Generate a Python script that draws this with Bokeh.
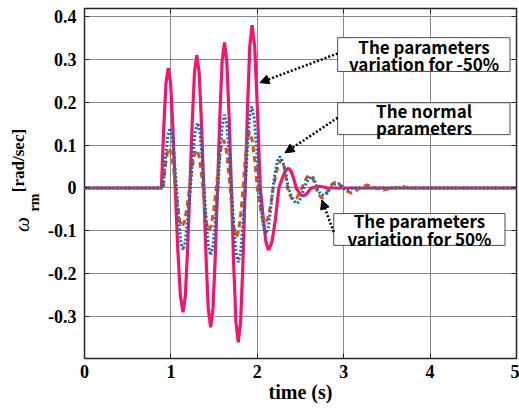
import math

from bokeh.core.properties import value
from bokeh.embed import file_html
from bokeh.layouts import row
from bokeh.models import Arrow, FixedTicker, LinearAxis, NormalHead, Range1d
from bokeh.plotting import figure
from bokeh.resources import INLINE

# Rotor speed deviation omega_rm [rad/sec] vs time [s]
# Parameter variation -50 %
t_m50 = [0, 0.89, 0.917, 0.943, 0.97, 0.997, 1.023, 1.05, 1.08, 1.11, 1.14, 1.167, 1.193,
         1.22, 1.247, 1.273, 1.30, 1.327, 1.353, 1.38, 1.407, 1.433, 1.46, 1.487, 1.513,
         1.54, 1.567, 1.593, 1.62, 1.647, 1.673, 1.70, 1.727, 1.753, 1.78, 1.807, 1.833,
         1.86, 1.887, 1.913, 1.94, 1.97, 2.0, 2.035, 2.07, 2.10, 2.13, 2.17, 2.21, 2.25,
         2.29, 2.325, 2.36, 2.39, 2.42, 2.45, 2.48, 2.505, 2.53, 2.56, 2.59, 2.62, 2.72,
         2.82, 5.0]
w_m50 = [0, 0, 0.14, 0.244, 0.28, 0.244, 0.14, 0, -0.145, -0.252, -0.29, -0.252, -0.145,
         0, 0.155, 0.27, 0.31, 0.27, 0.155, 0, -0.163, -0.283, -0.325, -0.283, -0.163,
         0, 0.17, 0.296, 0.34, 0.296, 0.17, 0, -0.18, -0.313, -0.36, -0.313, -0.18,
         0, 0.19, 0.33, 0.38, 0.33, 0.19, 0, -0.073, -0.126, -0.145, -0.126, -0.073, 0,
         0.023, 0.04, 0.046, 0.04, 0.023, 0, -0.009, -0.016, -0.018, -0.016, -0.009, 0, 0.004,
         0, 0]

# Normal parameters
t_nom = [0, 0.91, 0.937, 0.963, 0.99, 1.015, 1.04, 1.065, 1.09, 1.115, 1.14, 1.167, 1.193,
         1.225, 1.253, 1.282, 1.31, 1.335, 1.36, 1.385, 1.41, 1.435, 1.46, 1.487, 1.513,
         1.545, 1.57, 1.595, 1.62, 1.647, 1.673, 1.70, 1.727, 1.753, 1.78, 1.807, 1.833,
         1.86, 1.885, 1.91, 1.935, 1.963, 1.992, 2.02, 2.047, 2.073, 2.10, 2.127, 2.153,
         2.18, 2.207, 2.233, 2.26, 2.293, 2.327, 2.36, 2.393, 2.427, 2.46, 2.487, 2.513,
         2.54, 2.57, 2.60, 2.63, 2.65, 2.67, 2.69, 2.725, 2.76, 2.805, 2.85, 2.895, 2.94,
         2.965, 2.99, 3.04, 3.10, 5.0]
w_nom = [0, 0, 0.07, 0.121, 0.14, 0.121, 0.07, 0, -0.073, -0.126, -0.145, -0.126, -0.073,
         0, 0.076, 0.132, 0.152, 0.132, 0.076, 0, -0.079, -0.136, -0.157, -0.136, -0.079,
         0, 0.086, 0.148, 0.171, 0.148, 0.086, 0, -0.087, -0.15, -0.173, -0.15, -0.087,
         0, 0.095, 0.165, 0.19, 0.165, 0.095, 0, -0.054, -0.093, -0.107, -0.093, -0.054,
         0, 0.037, 0.063, 0.073, 0.063, 0.037, 0, -0.018, -0.031, -0.036, -0.031, -0.018,
         0, 0.013, 0.023, 0.026, 0.023, 0.013, 0, -0.012, -0.016, -0.012, 0, 0.008, 0.01,
         0.008, 0, -0.005, 0, 0]

# Parameter variation +50 %
t_p50 = [0, 0.91, 0.933, 0.957, 0.98, 1.005, 1.03, 1.055, 1.08, 1.105, 1.13, 1.157, 1.187,
         1.215, 1.243, 1.272, 1.30, 1.323, 1.347, 1.37, 1.393, 1.417, 1.44, 1.468, 1.497,
         1.525, 1.553, 1.582, 1.61, 1.635, 1.66, 1.685, 1.71, 1.735, 1.76, 1.785, 1.81,
         1.835, 1.86, 1.885, 1.91, 1.94, 1.97, 2.0, 2.03, 2.06, 2.09, 2.122, 2.153, 2.185,
         2.217, 2.248, 2.28, 2.303, 2.327, 2.35, 2.373, 2.397, 2.42, 2.452, 2.483, 2.515,
         2.547, 2.578, 2.61, 2.633, 2.657, 2.68, 2.715, 2.75, 2.79, 2.83, 2.865, 2.90, 2.95,
         3.0, 3.045, 3.09, 3.135, 3.18, 3.27, 3.37, 3.46, 3.57, 3.69, 3.8, 5.0]
w_p50 = [0, 0, 0.047, 0.081, 0.093, 0.081, 0.047, 0, -0.045, -0.078, -0.09, -0.078, -0.045,
         0, 0.045, 0.077, 0.089, 0.077, 0.045, 0, -0.05, -0.087, -0.10, -0.087, -0.05,
         0, 0.056, 0.097, 0.112, 0.097, 0.056, 0, -0.057, -0.099, -0.114, -0.099, -0.057,
         0, 0.065, 0.113, 0.13, 0.113, 0.065, 0, -0.041, -0.071, -0.082, -0.071, -0.041, 0,
         0.033, 0.057, 0.066, 0.057, 0.033, 0, -0.014, -0.024, -0.028, -0.024, -0.014, 0,
         0.015, 0.026, 0.03, 0.026, 0.015, 0, -0.017, -0.024, -0.017, 0, 0.009, 0.013, 0.009,
         0, -0.008, -0.012, -0.008, 0, 0.007, 0, -0.005, 0, 0.003, 0, 0]

x_ticks = [0, 1, 2, 3, 4, 5]
x_tick_labels = ["0", "1", "2", "3", "4", "5"]
y_ticks = [-0.3, -0.2, -0.1, 0, 0.1, 0.2, 0.3, 0.4]
y_tick_labels = ["-0.3", "-0.2", "-0.1", "0", "0.1", "0.2", "0.3", "0.4"]

PINK = "#f4146a"
BLUE = "#0072bd"
ORANGE = "#d95319"
FRAME = "#262626"
SERIF = "Liberation Serif"
SANS = "Noto Sans CJK KR"

LABEL_W = 45   # strip holding the vertical y-axis title
H = 408
TOP, BOTTOM = 8, 50   # frame insets shared by both plots of the row

# ---- y-axis title strip: omega_rm [rad/sec], positioned in pixels from the bottom ----
ylab = figure(width=LABEL_W, height=H, output_backend="svg", toolbar_location=None,
              x_range=Range1d(0, LABEL_W), y_range=Range1d(BOTTOM, H - TOP),
              min_border_left=0, min_border_right=0, min_border_top=TOP,
              min_border_bottom=BOTTOM, outline_line_color=None,
              background_fill_color="white", border_fill_color="white")
ylab.axis.visible = False
ylab.grid.visible = False
title_parts = [
    # (x, y from bottom, text, style, size)
    (21, 184, "ω", "italic", "21px"),
    (34, 206, "rm", "bold", "14px"),
    (18, 248, "[rad/sec]", "bold", "17px"),
]
for x, y, txt, style, size in title_parts:
    ylab.text(x=[x], y=[y], text=[txt], angle=math.pi / 2, text_font=value(SERIF),
              text_font_style=style, text_font_size=size, text_align="center",
              text_baseline="middle", text_color="black")

# ---- main chart ----
p = figure(width=519 - LABEL_W, height=H, output_backend="svg", toolbar_location=None,
           x_range=Range1d(0, 5), y_range=Range1d(-0.398, 0.419),
           min_border_left=83 - LABEL_W, min_border_right=3, min_border_top=TOP,
           min_border_bottom=BOTTOM,
           background_fill_color="white", border_fill_color="white")
p.outline_line_color = FRAME
p.outline_line_width = 1.5

# Grid
p.xgrid.ticker = FixedTicker(ticks=[1, 2, 3, 4])
p.ygrid.ticker = FixedTicker(ticks=y_ticks)
for g in (p.xgrid, p.ygrid):
    g.grid_line_color = "#8a8a8a"
    g.grid_line_width = 1

# Axes
p.xaxis.ticker = FixedTicker(ticks=x_ticks)
p.xaxis.major_label_overrides = dict(zip(x_ticks, x_tick_labels))
p.yaxis.ticker = FixedTicker(ticks=y_ticks)
p.yaxis.major_label_overrides = dict(zip(y_ticks, y_tick_labels))
for ax in (p.xaxis, p.yaxis):
    ax.axis_line_color = None
    ax.major_tick_in = 5
    ax.major_tick_out = 0
    ax.minor_tick_line_color = None
    ax.major_tick_line_color = FRAME
    ax.major_label_text_font = SERIF
    ax.major_label_text_font_style = "bold"
    ax.major_label_text_font_size = "18px"
    ax.major_label_text_color = "black"
p.yaxis.major_label_standoff = 8
p.xaxis.major_label_standoff = 6
p.xaxis.axis_label = "time (s)"
p.xaxis.axis_label_text_font = SERIF
p.xaxis.axis_label_text_font_style = "bold"
p.xaxis.axis_label_text_font_size = "20px"
p.xaxis.axis_label_text_color = "black"
p.xaxis.axis_label_standoff = 0

# Mirror ticks on the top and right edges of the frame
for side, ticks in (("right", y_ticks), ("above", x_ticks)):
    ax = LinearAxis(ticker=FixedTicker(ticks=ticks), axis_line_color=None,
                    major_tick_in=5, major_tick_out=0, minor_tick_line_color=None,
                    major_tick_line_color=FRAME, major_label_text_font_size="0px",
                    major_label_overrides={t: "" for t in ticks},
                    major_label_standoff=0)
    p.add_layout(ax, side)

# Curves
p.line(t_m50, w_m50, line_color=PINK, line_width=3.2)
p.line(t_p50, w_p50, line_color=ORANGE, line_width=3, line_dash="6 4")
p.line(t_nom, w_nom, line_color=BLUE, line_width=3, line_dash="2 2")

# Annotation boxes
boxes = [
    (2.93, 4.925, 0.351, 0.272, 3.93, [("The parameters", 0.330), ("variation for -50%", 0.291)]),
    (2.93, 4.925, 0.199, 0.1246, 3.93, [("The normal", 0.181), ("parameters", 0.141)]),
    (2.885, 4.867, -0.0597, -0.134, 3.876, [("The parameters", -0.076), ("variation for 50%", -0.118)]),
]
for left, right, top, bottom, cx, lines in boxes:
    p.quad(left=[left], right=[right], top=[top], bottom=[bottom],
           fill_color="white", line_color="#4d4d4d", line_width=1)
    p.text(x=[cx] * len(lines), y=[ln[1] for ln in lines], text=[ln[0] for ln in lines],
           text_font=value(SANS), text_font_style="bold", text_font_size="17px",
           text_align="center", text_baseline="middle", text_color="black")

# Dotted arrows from the boxes to the curves
arrows = [
    (2.93, 0.314, 2.03, 0.246),
    (2.93, 0.164, 2.32, 0.082),
    (2.885, -0.103, 2.746, -0.028),
]
for xs, ys, xe, ye in arrows:
    p.add_layout(Arrow(x_start=xs, y_start=ys, x_end=xe, y_end=ye,
                       line_color="black", line_width=2.5, line_dash="2 2",
                       end=NormalHead(size=9, fill_color="black", line_color="black",
                                      line_width=1)))

layout = row(ylab, p, spacing=0)
open("out.html", "w").write(file_html(layout, INLINE))
